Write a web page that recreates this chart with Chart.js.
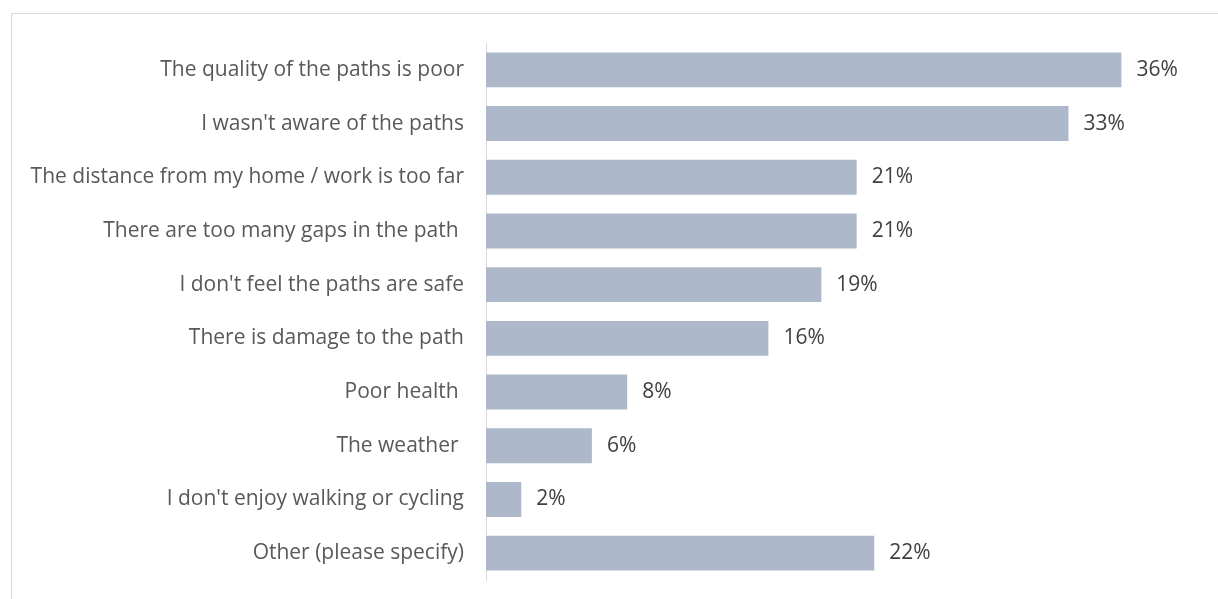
<!DOCTYPE html>
<html>
<head>
<meta charset="utf-8">
<script src="https://cdn.jsdelivr.net/npm/chart.js@4/dist/chart.umd.min.js"></script>
<style>
  html, body { margin: 0; padding: 0; background: #fff; }
  #wrap { position: relative; width: 1218px; height: 599px; overflow: hidden; }
  #frame { position: absolute; left: 11px; top: 13px; width: 1240px; height: 620px; border: 1px solid #D9D9D9; box-sizing: border-box; }
  canvas { position: absolute; left: 0; top: 0; }
</style>
</head>
<body>
<div id="wrap">
  <div id="frame"></div>
  <canvas id="c" width="1218" height="599"></canvas>
</div>
<script>
// Reasons for not using the paths (% of respondents)
const categories = [
  "The quality of the paths is poor",
  "I wasn't aware of the paths",
  "The distance from my home / work is too far",
  "There are too many gaps in the path ",
  "I don't feel the paths are safe",
  "There is damage to the path",
  "Poor health ",
  "The weather ",
  "I don't enjoy walking or cycling",
  "Other (please specify)"
];
const percentages = [36, 33, 21, 21, 19, 16, 8, 6, 2, 22];

const FONT = "'Open Sans', sans-serif";

// Writes each bar's value just past its end
const valueLabels = {
  id: 'valueLabels',
  afterDatasetsDraw(chart) {
    const ctx = chart.ctx;
    const meta = chart.getDatasetMeta(0);
    ctx.save();
    ctx.font = "21px " + FONT;
    ctx.fillStyle = "#404040";
    ctx.textAlign = "left";
    ctx.textBaseline = "middle";
    meta.data.forEach((bar, i) => {
      ctx.fillText(percentages[i] + "%", bar.x + 15, bar.y);
    });
    ctx.restore();
  }
};

new Chart(document.getElementById('c'), {
  type: 'bar',
  data: {
    labels: categories,
    datasets: [{
      data: percentages,
      backgroundColor: '#ADB9CA',
      borderWidth: 0,
      categoryPercentage: 1,
      barPercentage: 0.65
    }]
  },
  options: {
    indexAxis: 'y',
    responsive: false,
    animation: false,
    layout: { padding: { left: 0, right: 26, top: 43, bottom: 19 } },
    plugins: { legend: { display: false }, tooltip: { enabled: false } },
    scales: {
      x: { display: false, min: 0, max: 40 },
      y: {
        grid: { display: false, drawTicks: false },
        border: { display: true, color: '#D9D9D9', width: 1 },
        ticks: { color: '#595959', font: { family: FONT, size: 21 }, padding: 22 },
        afterFit(scale) {
          scale.width = 486;
          scale.paddingTop = 0;
          scale.paddingBottom = 0;
        }
      }
    }
  },
  plugins: [valueLabels]
});
</script>
</body>
</html>
